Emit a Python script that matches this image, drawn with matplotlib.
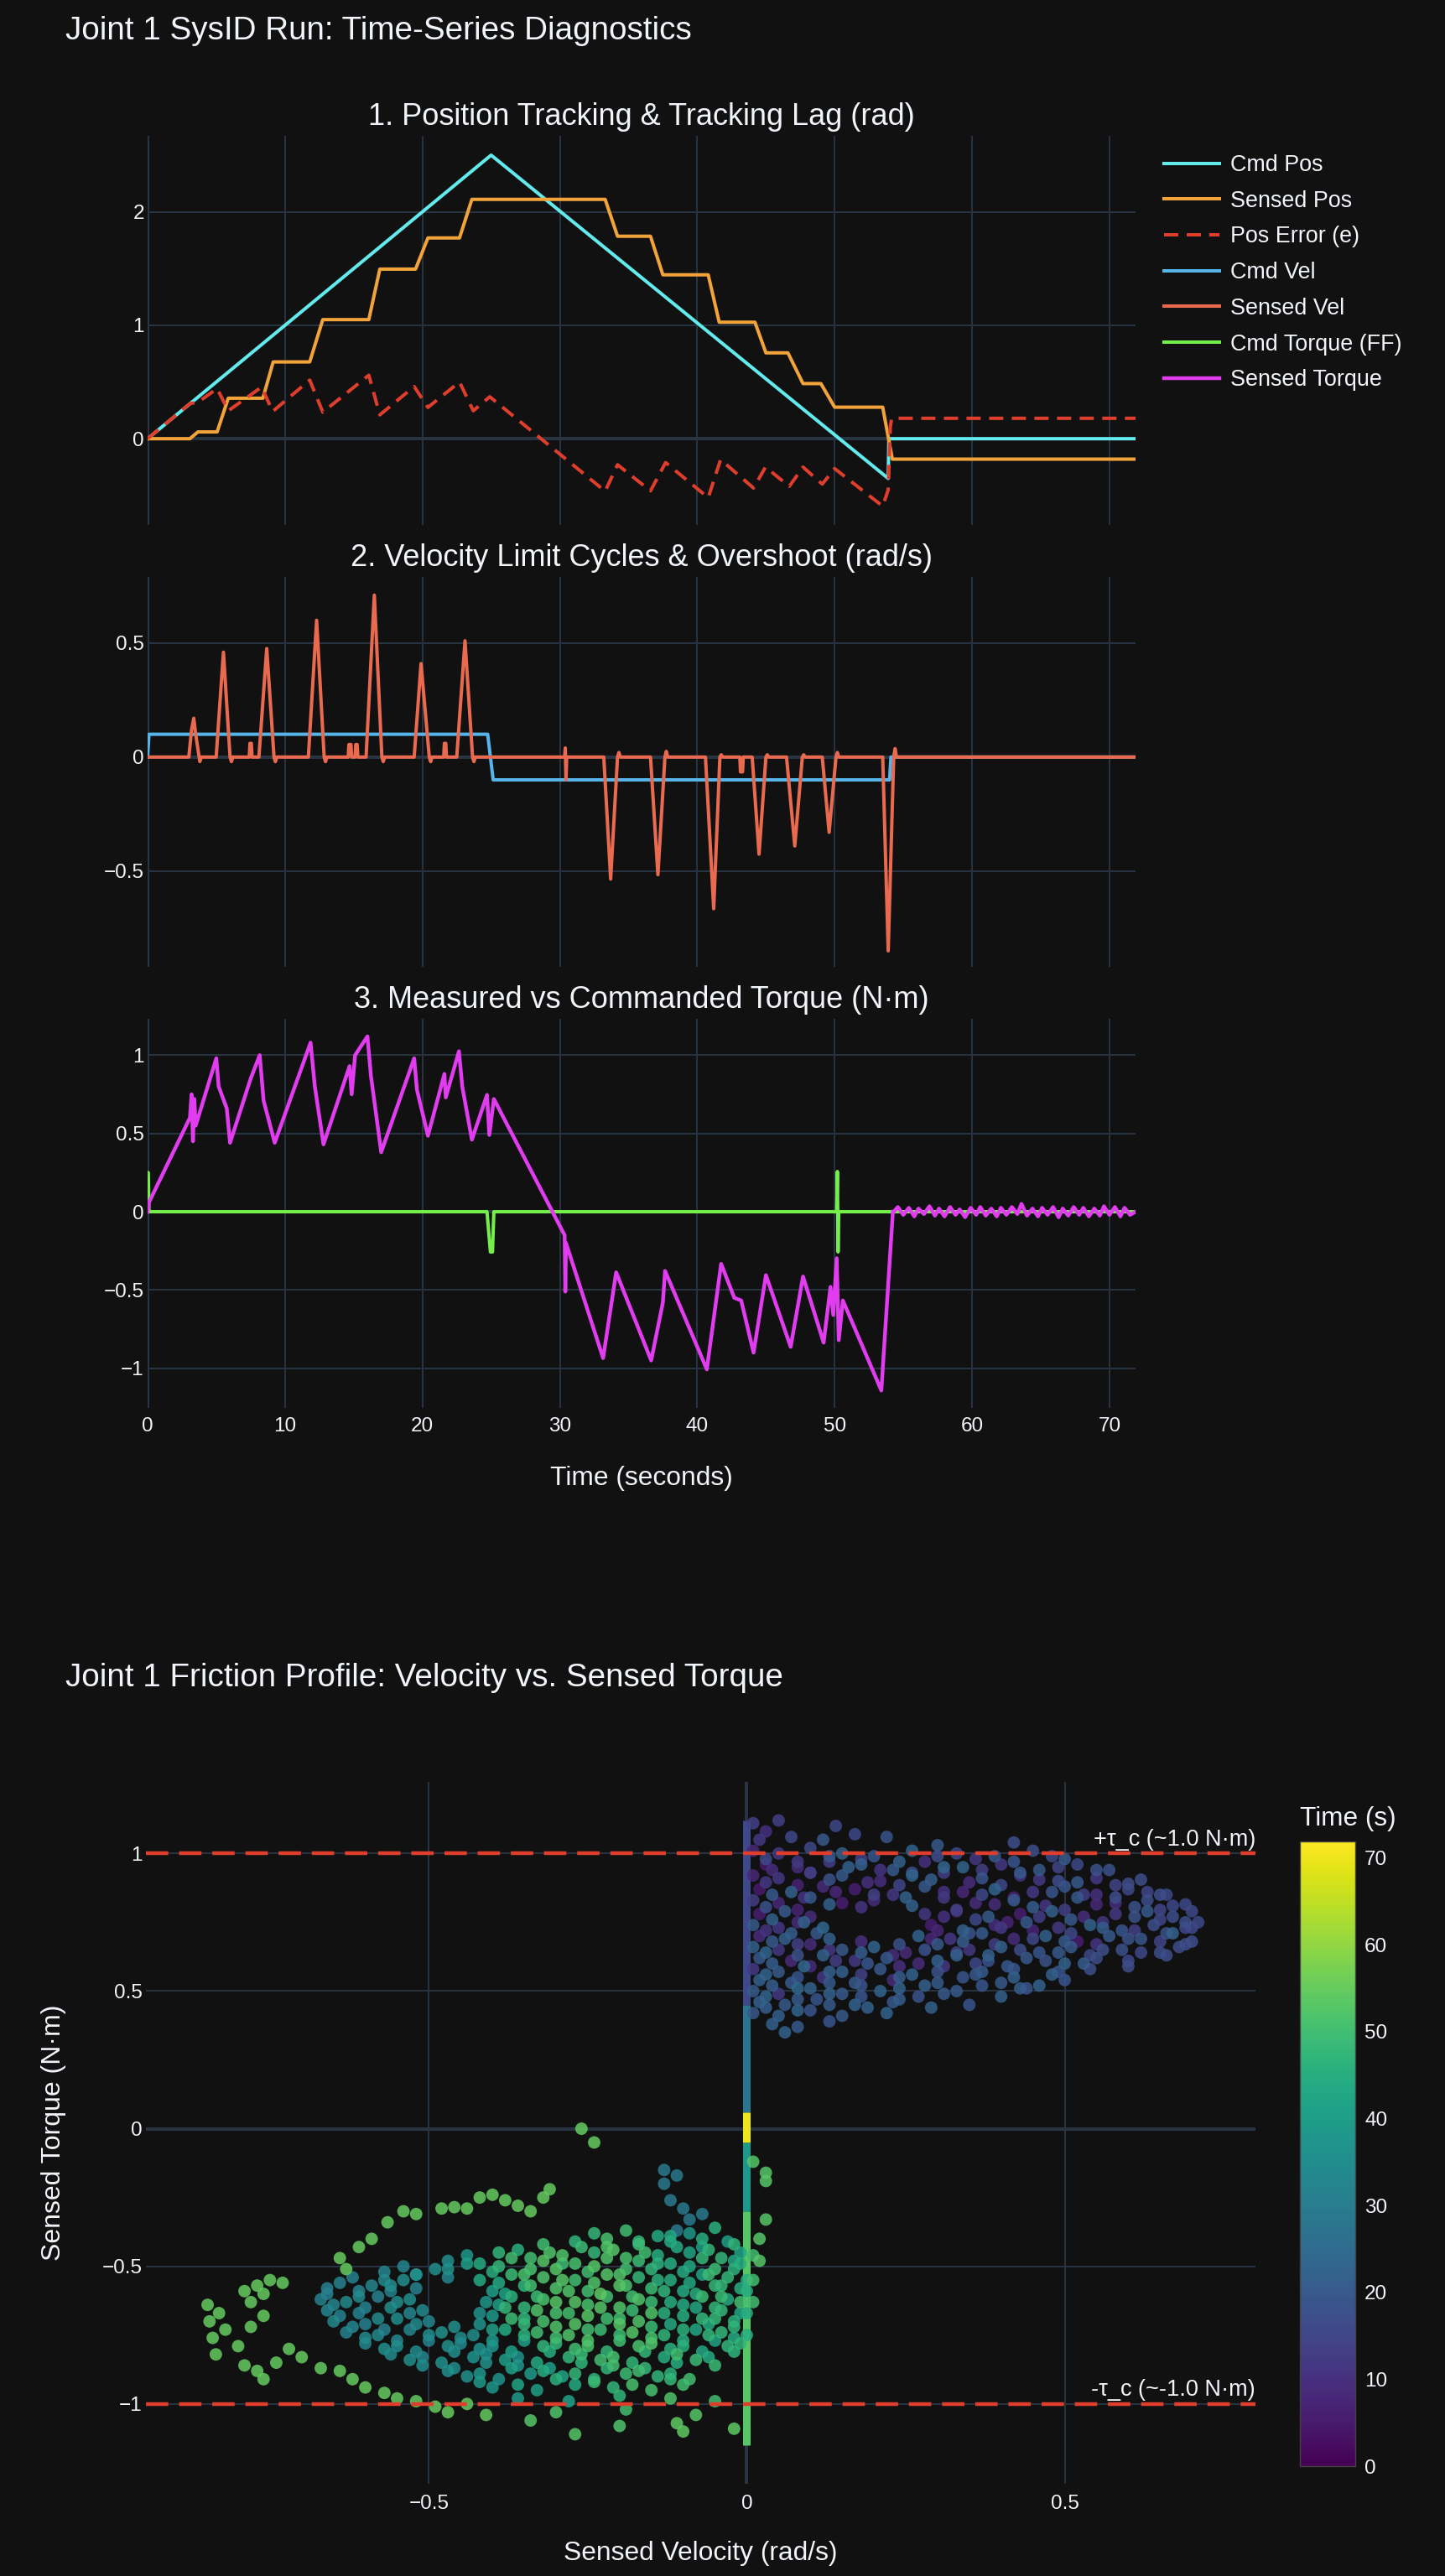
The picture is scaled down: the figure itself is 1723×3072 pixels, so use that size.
import numpy as np
import matplotlib
matplotlib.use("Agg")
import matplotlib.pyplot as plt
from matplotlib.colors import Normalize
from matplotlib.cm import ScalarMappable

# ---------- time series ----------
cmd_pos_t = [0, 25.0, 53.9, 53.95, 71.9]
cmd_pos = [0, 2.5, -0.35, 0.0, 0.0]

sensed_pos_t = [0, 3.08, 3.66, 5.06, 5.87, 8.39, 9.14, 11.8, 12.75, 16.1, 16.9, 19.5, 20.4,
                22.7, 23.6, 33.3, 34.2, 36.6, 37.5, 40.8, 41.6, 44.2, 45.0, 46.6, 47.7,
                49.0, 50.0, 53.5, 54.2, 71.9]
sensed_pos = [0, 0, 0.06, 0.06, 0.357, 0.357, 0.677, 0.677, 1.05, 1.05, 1.495, 1.495, 1.77,
              1.77, 2.11, 2.11, 1.785, 1.785, 1.445, 1.445, 1.027, 1.027, 0.757, 0.757, 0.486,
              0.486, 0.278, 0.278, -0.18, -0.18]

pos_err_t = [0, 3.08, 3.66, 5.06, 5.87, 8.3, 9.1, 11.8, 12.75, 16.1, 16.9, 19.4, 20.4, 22.7,
             23.7, 24.9, 33.3, 34.2, 36.6, 37.7, 40.8, 41.7, 44.1, 44.97, 46.7, 47.7, 49.1,
             50.0, 53.5, 53.9, 54.05, 54.15, 71.9]
pos_err = [0, 0.31, 0.32, 0.443, 0.246, 0.456, 0.24, 0.517, 0.234, 0.56, 0.21, 0.46, 0.276,
           0.5, 0.246, 0.37, -0.463, -0.229, -0.46, -0.21, -0.52, -0.184, -0.435, -0.25,
           -0.42, -0.25, -0.40, -0.263, -0.595, -0.45, 0.1, 0.18, 0.18]

cmd_vel_t = [0, 0.1, 24.75, 25.15, 54.0, 54.1, 71.9]
cmd_vel = [0, 0.1, 0.1, -0.1, -0.1, 0, 0]

sensed_vel_t = [0, 3.0, 3.2, 3.36, 3.5, 3.7, 3.8, 3.9, 4.99, 5.52, 6.0, 6.1, 6.2, 7.4, 7.45,
                7.55, 7.6, 8.1, 8.67, 9.2, 9.3, 9.4, 11.7, 12.3, 12.85, 12.95, 13.05, 14.6,
                14.65, 14.8, 14.85, 15.1, 15.15, 15.25, 15.3, 15.9, 16.5, 17.05, 17.15, 17.25,
                19.4, 19.9, 20.5, 20.6, 20.7, 21.55, 21.6, 21.7, 21.75, 22.5, 23.1, 23.65,
                23.75, 23.85, 30.35, 30.4, 30.45, 30.5, 33.2, 33.7, 34.2, 34.3, 34.4, 36.6,
                37.14, 37.65, 37.75, 37.85, 40.6, 41.2, 41.65, 41.75, 41.85, 43.1, 43.15, 43.3,
                43.35, 44.0, 44.5, 45.0, 45.1, 45.2, 46.5, 47.1, 47.65, 47.75, 47.85, 49.1,
                49.6, 50.1, 50.2, 50.3, 53.5, 53.9, 54.3, 54.4, 54.5, 71.9]
sensed_vel = [0, 0, 0.12, 0.17, 0.1, 0.02, -0.02, 0, 0, 0.46, 0.0, -0.02, 0, 0, 0.06,
              0.06, 0, 0, 0.476, 0.0, -0.02, 0, 0, 0.60, 0.0, -0.02, 0, 0,
              0.055, 0.055, 0, 0, 0.055, 0.055, 0, 0, 0.71, 0, -0.02, 0,
              0, 0.41, 0, -0.02, 0, 0, 0.06, 0.06, 0, 0, 0.51, 0,
              -0.02, 0, 0, 0.04, -0.10, 0, 0, -0.535, 0, 0.02, 0, 0,
              -0.516, 0, 0.025, 0, 0, -0.665, 0, 0.01, 0, 0, -0.065, -0.065,
              0, 0, -0.426, 0, 0.01, 0, 0, -0.39, 0, 0.01, 0, 0,
              -0.33, 0, 0.02, 0, 0, -0.85, 0, 0.037, 0, 0]

cmd_tau_t = [0, 0.05, 0.1, 24.7, 24.95, 25.1, 25.2, 50.15, 50.2, 50.25, 50.3, 71.9]
cmd_tau = [0.25, 0.25, 0, 0, -0.257, -0.257, 0, 0, 0.257, -0.257, 0, 0]

sensed_tau_t = [0, 0.1, 3.08, 3.2, 3.3, 3.4, 3.5, 5.0, 5.17, 5.76, 6.0, 7.5, 8.16, 8.44, 9.25,
                11.86, 12.17, 12.8, 14.7, 14.85, 15.1, 16.0, 16.25, 17.0, 19.4, 19.6, 20.4,
                21.6, 21.7, 22.66, 22.9, 23.6, 24.7, 24.87, 25.2, 30.35, 30.4, 30.45, 33.15,
                34.1, 36.65, 37.5, 37.66, 40.7, 41.74, 42.7, 43.2, 44.1, 45.0, 46.8, 47.7,
                49.2, 49.7, 49.9, 50.15, 50.3, 50.6, 53.4, 54.24]
sensed_tau = [0, 0.06, 0.60, 0.75, 0.45, 0.72, 0.55, 0.98, 0.80, 0.66, 0.44, 0.85, 1.0, 0.71,
              0.44, 1.08, 0.80, 0.43, 0.93, 0.75, 1.0, 1.12, 0.87, 0.38, 0.98, 0.78, 0.485,
              0.88, 0.73, 1.025, 0.80, 0.46, 0.746, 0.49, 0.72, -0.15, -0.51, -0.2, -0.935,
              -0.387, -0.95, -0.58, -0.378, -1.007, -0.333, -0.55, -0.567, -0.90, -0.405,
              -0.863, -0.414, -0.836, -0.48, -0.66, -0.297, -0.82, -0.567, -1.142, 0.0]

settle_t = [54.3, 54.6, 55.0, 55.4, 55.8, 56.1, 56.5, 56.9, 57.3, 57.6, 58.0, 58.4, 58.8, 59.1,
            59.5, 59.9, 60.3, 60.6, 61.0, 61.4, 61.8, 62.1, 62.5, 62.9, 63.3, 63.6, 64.0, 64.4,
            64.8, 65.1, 65.5, 65.9, 66.3, 66.6, 67.0, 67.4, 67.8, 68.1, 68.5, 68.9, 69.3, 69.6,
            70.0, 70.4, 70.8, 71.1, 71.5, 71.9]
settle_tau = [0.0, 0.03, -0.02, 0.025, -0.03, 0.02, -0.015, 0.035, -0.025, 0.02, -0.03, 0.03,
              -0.02, 0.015, -0.035, 0.025, -0.02, 0.03, -0.025, 0.02, -0.03, 0.025, -0.02, 0.03,
              -0.015, 0.05, -0.025, 0.02, -0.03, 0.025, -0.02, 0.03, -0.035, 0.02, -0.025, 0.03,
              -0.02, 0.025, -0.03, 0.02, -0.025, 0.035, -0.02, 0.03, -0.03, 0.025, -0.02, 0.0]

# ---------- friction scatter ----------
# upper cloud (positive slips, first half of the run)
upper_vel = [
    0.01, 0.03, 0.14, 0.05,
    0.02, 0.07, 0.12, 0.17, 0.22, 0.42, 0.30,
    0.01, 0.05, 0.10, 0.15, 0.20, 0.26, 0.33, 0.39, 0.45, 0.50,
    0.03, 0.08, 0.13, 0.18, 0.23, 0.28, 0.34, 0.40, 0.46, 0.52, 0.57,
    0.01, 0.05, 0.10, 0.15, 0.21, 0.26, 0.31, 0.37, 0.43, 0.49, 0.55, 0.60,
    0.02, 0.07, 0.12, 0.17, 0.23, 0.28, 0.34, 0.39, 0.45, 0.50, 0.55, 0.60, 0.65,
    0.01, 0.05, 0.10, 0.15, 0.20, 0.26, 0.31, 0.36, 0.42, 0.47, 0.52, 0.58, 0.63, 0.67,
    0.02, 0.06, 0.10, 0.28, 0.33, 0.38, 0.43, 0.48, 0.53, 0.58, 0.63, 0.67, 0.70,
    0.01, 0.05, 0.09, 0.29, 0.34, 0.39, 0.44, 0.49, 0.54, 0.59, 0.64, 0.69, 0.71,
    0.02, 0.06, 0.11, 0.27, 0.32, 0.37, 0.42, 0.47, 0.52, 0.57, 0.62, 0.67, 0.70,
    0.01, 0.05, 0.10, 0.15, 0.20, 0.25, 0.30, 0.35, 0.40, 0.46, 0.51, 0.56, 0.62, 0.68,
    0.02, 0.07, 0.12, 0.17, 0.22, 0.27, 0.33, 0.38, 0.44, 0.50, 0.55, 0.60, 0.66,
    0.01, 0.05, 0.10, 0.15, 0.21, 0.26, 0.31, 0.37, 0.42, 0.48, 0.54,
    0.02, 0.07, 0.12, 0.17, 0.23, 0.28, 0.34, 0.40, 0.46, 0.50,
    0.01, 0.05, 0.10, 0.15, 0.21, 0.27, 0.33, 0.40, 0.44,
    0.02, 0.06, 0.11, 0.17, 0.23, 0.29, 0.35,
    0.01, 0.05, 0.10, 0.15, 0.22,
    0.04, 0.08, 0.13, 0.06,
    # in-between samples
    0.03, 0.08, 0.13, 0.18, 0.24, 0.30, 0.36, 0.42, 0.48,
    0.04, 0.10, 0.16, 0.21, 0.26, 0.31, 0.37, 0.43, 0.49, 0.55,
    0.03, 0.08, 0.13, 0.19, 0.24, 0.29, 0.35, 0.40, 0.46, 0.52, 0.58, 0.62,
    0.04, 0.09, 0.14, 0.20, 0.25, 0.31, 0.37, 0.42, 0.48, 0.53, 0.58, 0.63, 0.66,
    0.03, 0.08, 0.13, 0.18, 0.33, 0.39, 0.45, 0.50, 0.55, 0.61, 0.65, 0.69,
    0.04, 0.08, 0.31, 0.36, 0.41, 0.46, 0.51, 0.56, 0.61, 0.65, 0.69,
    0.03, 0.07, 0.12, 0.30, 0.35, 0.40, 0.45, 0.51, 0.56, 0.61, 0.66, 0.70,
    0.04, 0.08, 0.13, 0.18, 0.24, 0.29, 0.34, 0.39, 0.45, 0.50, 0.55, 0.60, 0.65, 0.69,
    0.03, 0.08, 0.13, 0.18, 0.23, 0.28, 0.33, 0.38, 0.43, 0.49, 0.54, 0.59, 0.65,
    0.04, 0.09, 0.14, 0.19, 0.24, 0.30, 0.36, 0.41, 0.47, 0.53, 0.60,
    0.03, 0.08, 0.13, 0.18, 0.24, 0.30, 0.36, 0.42, 0.49,
    0.04, 0.08, 0.13, 0.18, 0.24, 0.30, 0.37, 0.43,
    0.03, 0.08, 0.13, 0.18, 0.24, 0.31,
    0.03, 0.08, 0.13, 0.19,
]
upper_tau = [
    1.11, 1.08, 1.10, 1.12,
    1.05, 1.06, 1.05, 1.07, 1.06, 1.04, 1.03,
    1.01, 1.00, 1.02, 1.00, 0.99, 1.01, 1.00, 0.99, 1.01, 0.98,
    0.96, 0.95, 0.97, 0.96, 0.94, 0.97, 0.95, 0.96, 0.94, 0.96, 0.94,
    0.92, 0.91, 0.93, 0.92, 0.90, 0.92, 0.93, 0.91, 0.92, 0.90, 0.91, 0.89,
    0.87, 0.86, 0.88, 0.87, 0.85, 0.88, 0.86, 0.87, 0.86, 0.88, 0.85, 0.87, 0.85,
    0.83, 0.82, 0.84, 0.82, 0.83, 0.81, 0.84, 0.82, 0.83, 0.81, 0.84, 0.82, 0.83, 0.81,
    0.78, 0.79, 0.77, 0.78, 0.79, 0.77, 0.78, 0.79, 0.77, 0.78, 0.79, 0.77, 0.79,
    0.74, 0.73, 0.75, 0.74, 0.72, 0.74, 0.75, 0.73, 0.74, 0.72, 0.74, 0.73, 0.75,
    0.70, 0.69, 0.71, 0.70, 0.69, 0.71, 0.69, 0.70, 0.68, 0.70, 0.69, 0.71, 0.68,
    0.66, 0.65, 0.67, 0.65, 0.66, 0.64, 0.67, 0.65, 0.66, 0.64, 0.66, 0.65, 0.64, 0.66,
    0.62, 0.61, 0.63, 0.61, 0.62, 0.60, 0.63, 0.61, 0.62, 0.60, 0.62, 0.61, 0.63,
    0.58, 0.57, 0.59, 0.57, 0.58, 0.56, 0.59, 0.57, 0.58, 0.56, 0.58,
    0.54, 0.53, 0.55, 0.53, 0.54, 0.52, 0.55, 0.53, 0.52, 0.54,
    0.50, 0.49, 0.51, 0.49, 0.50, 0.48, 0.50, 0.48, 0.51,
    0.46, 0.45, 0.47, 0.45, 0.46, 0.44, 0.45,
    0.42, 0.41, 0.43, 0.41, 0.42,
    0.38, 0.37, 0.39, 0.35,
    0.98, 0.97, 0.99, 0.98, 0.97, 0.99, 0.98, 0.97, 0.99,
    0.94, 0.93, 0.95, 0.94, 0.93, 0.95, 0.94, 0.93, 0.95, 0.94,
    0.895, 0.885, 0.905, 0.895, 0.885, 0.905, 0.895, 0.885, 0.905, 0.895, 0.885, 0.905,
    0.85, 0.84, 0.86, 0.85, 0.84, 0.86, 0.85, 0.84, 0.86, 0.85, 0.84, 0.86, 0.85,
    0.805, 0.795, 0.815, 0.805, 0.795, 0.815, 0.805, 0.795, 0.815, 0.805, 0.795, 0.815,
    0.76, 0.75, 0.77, 0.76, 0.75, 0.77, 0.76, 0.75, 0.77, 0.76, 0.75,
    0.72, 0.71, 0.73, 0.72, 0.71, 0.73, 0.72, 0.71, 0.73, 0.72, 0.71, 0.73,
    0.68, 0.67, 0.69, 0.68, 0.67, 0.69, 0.68, 0.67, 0.69, 0.68, 0.67, 0.69, 0.68, 0.67,
    0.64, 0.63, 0.65, 0.64, 0.63, 0.65, 0.64, 0.63, 0.65, 0.64, 0.63, 0.65, 0.64,
    0.60, 0.59, 0.61, 0.60, 0.59, 0.61, 0.60, 0.59, 0.61, 0.60, 0.59,
    0.56, 0.55, 0.57, 0.56, 0.55, 0.57, 0.56, 0.55, 0.57,
    0.52, 0.51, 0.53, 0.52, 0.51, 0.53, 0.52, 0.51,
    0.48, 0.47, 0.49, 0.48, 0.47, 0.49,
    0.44, 0.43, 0.45, 0.44,
]
upper_time = [
    14, 10, 16, 14,
    12, 16, 20, 16, 19, 17, 20,
    8, 12, 16, 22, 19, 23, 16, 20, 17, 20,
    5, 9, 13, 22, 20, 10, 23, 12, 20, 16, 18,
    8, 12, 6, 20, 9, 23, 13, 19, 10, 17, 12, 17,
    5, 22, 9, 6, 12, 20, 8, 23, 12, 19, 10, 16, 17,
    13, 8, 20, 6, 9, 22, 12, 9, 20, 12, 20, 10, 17, 16,
    6, 20, 9, 12, 8, 20, 6, 22, 9, 12, 20, 17, 16,
    20, 12, 22, 6, 22, 9, 20, 12, 23, 19, 17, 16, 16,
    9, 22, 20, 23, 12, 20, 9, 22, 6, 20, 19, 22, 17,
    22, 12, 9, 20, 23, 9, 20, 12, 22, 19, 20, 17, 16, 17,
    20, 9, 22, 12, 20, 9, 22, 19, 20, 22, 17, 16, 17,
    12, 20, 9, 22, 20, 23, 12, 20, 19, 22, 17,
    22, 20, 12, 20, 9, 22, 19, 20, 23, 19,
    20, 12, 22, 20, 23, 19, 20, 22, 19,
    22, 20, 19, 23, 20, 22, 19,
    20, 22, 19, 20, 23,
    22, 20, 19, 23,
    16, 12, 20, 14, 22, 17, 12, 19, 16,
    9, 14, 22, 11, 17, 24, 13, 20, 15, 18,
    12, 7, 18, 10, 15, 21, 9, 16, 12, 20, 15, 17,
    20, 11, 8, 14, 22, 10, 16, 7, 19, 13, 17, 15, 16,
    18, 7, 22, 11, 14, 9, 21, 13, 8, 18, 15, 16,
    22, 9, 10, 16, 7, 13, 20, 11, 18, 15, 17,
    11, 21, 24, 8, 19, 12, 7, 16, 21, 14, 18, 16,
    20, 14, 22, 10, 18, 8, 21, 13, 16, 20, 11, 18, 15, 17,
    23, 18, 12, 21, 9, 19, 14, 22, 17, 20, 16, 18, 17,
    21, 24, 13, 19, 10, 22, 16, 20, 18, 21, 17,
    23, 19, 22, 14, 21, 18, 20, 22, 19,
    21, 24, 20, 18, 22, 20, 19, 21,
    23, 20, 22, 19, 21, 20,
    21, 23, 20, 22,
]

# lower cloud (negative slips, second half of the run)
lower_vel = [
    -0.24, -0.19, -0.14, -0.09, -0.05,
    -0.32, -0.27, -0.22, -0.17, -0.12, -0.07, -0.02,
    -0.44, -0.39, -0.34, -0.29, -0.24, -0.19, -0.14, -0.09, -0.04, 0.01,
    -0.54, -0.49, -0.44, -0.39, -0.34, -0.29, -0.24, -0.19, -0.14, -0.09, -0.05, -0.01,
    -0.62, -0.57, -0.52, -0.47, -0.42, -0.37, -0.32, -0.27, -0.22, -0.17, -0.12, -0.07, -0.03, 0.01,
    -0.66, -0.61, -0.56, -0.52, -0.40, -0.35, -0.30, -0.25, -0.20, -0.15, -0.10, -0.05, -0.01,
    -0.67, -0.63, -0.58, -0.53, -0.41, -0.37, -0.32, -0.27, -0.22, -0.17, -0.12, -0.07, -0.03, 0.01,
    -0.66, -0.61, -0.56, -0.51, -0.42, -0.38, -0.33, -0.28, -0.23, -0.18, -0.13, -0.08, -0.04, 0.0,
    -0.65, -0.60, -0.55, -0.50, -0.42, -0.37, -0.32, -0.27, -0.22, -0.17, -0.12, -0.07, -0.02,
    -0.63, -0.58, -0.53, -0.48, -0.43, -0.38, -0.33, -0.28, -0.23, -0.18, -0.13, -0.08, -0.04, 0.0,
    -0.60, -0.55, -0.50, -0.45, -0.40, -0.35, -0.30, -0.25, -0.20, -0.15, -0.10, -0.05, -0.01,
    -0.56, -0.51, -0.46, -0.41, -0.36, -0.31, -0.26, -0.21, -0.16, -0.11, -0.06, -0.02,
    -0.51, -0.46, -0.41, -0.36, -0.31, -0.26, -0.21, -0.16, -0.11, -0.05,
    -0.44, -0.39, -0.34, -0.29, -0.24, -0.19, -0.14, -0.09,
    -0.40, -0.33, -0.27, -0.21, -0.15, -0.10,
    -0.36, -0.28, -0.20, -0.12, -0.05,
    -0.30, -0.19, -0.08,
    -0.34, -0.20, -0.11, -0.02,
    -0.27, -0.10,
    # in-between samples
    -0.22, -0.17, -0.12, -0.07, -0.03,
    -0.36, -0.31, -0.26, -0.21, -0.16, -0.11, -0.06, -0.01,
    -0.47, -0.42, -0.37, -0.32, -0.27, -0.22, -0.17, -0.12, -0.07, -0.02,
    -0.57, -0.52, -0.47, -0.40, -0.35, -0.30, -0.25, -0.20, -0.15, -0.10, -0.06, -0.02,
    -0.64, -0.59, -0.54, -0.39, -0.34, -0.29, -0.24, -0.19, -0.14, -0.09, -0.04, 0.0,
    -0.66, -0.61, -0.56, -0.38, -0.33, -0.28, -0.23, -0.18, -0.13, -0.08, -0.04, 0.0,
    -0.65, -0.60, -0.55, -0.39, -0.35, -0.30, -0.25, -0.20, -0.15, -0.10, -0.05, -0.01,
    -0.64, -0.58, -0.53, -0.40, -0.35, -0.30, -0.25, -0.20, -0.15, -0.10, -0.05, -0.01,
    -0.62, -0.57, -0.52, -0.46, -0.40, -0.35, -0.30, -0.25, -0.20, -0.15, -0.10, -0.06, -0.02,
    -0.60, -0.55, -0.50, -0.45, -0.40, -0.35, -0.30, -0.25, -0.20, -0.15, -0.10, -0.06, -0.02,
    -0.57, -0.52, -0.47, -0.42, -0.37, -0.32, -0.27, -0.22, -0.17, -0.12, -0.07, -0.03,
    -0.53, -0.48, -0.43, -0.38, -0.33, -0.28, -0.23, -0.18, -0.13, -0.08,
    -0.47, -0.42, -0.37, -0.32, -0.27, -0.22, -0.17, -0.12,
    -0.42, -0.36, -0.30, -0.24, -0.18, -0.12,
]
lower_tau = [
    -0.38, -0.37, -0.39, -0.38, -0.36,
    -0.42, -0.41, -0.43, -0.42, -0.41, -0.43, -0.42,
    -0.46, -0.45, -0.47, -0.46, -0.45, -0.47, -0.46, -0.45, -0.47, -0.46,
    -0.50, -0.51, -0.49, -0.50, -0.51, -0.49, -0.50, -0.51, -0.49, -0.50, -0.51, -0.49,
    -0.54, -0.55, -0.53, -0.54, -0.55, -0.53, -0.54, -0.55, -0.53, -0.54, -0.55, -0.53, -0.54, -0.55,
    -0.58, -0.59, -0.57, -0.58, -0.59, -0.57, -0.58, -0.59, -0.57, -0.58, -0.59, -0.57, -0.58,
    -0.62, -0.63, -0.61, -0.62, -0.63, -0.61, -0.62, -0.63, -0.61, -0.62, -0.63, -0.61, -0.62, -0.63,
    -0.66, -0.67, -0.65, -0.66, -0.67, -0.65, -0.66, -0.67, -0.65, -0.66, -0.67, -0.65, -0.66, -0.67,
    -0.70, -0.71, -0.69, -0.70, -0.71, -0.69, -0.70, -0.71, -0.69, -0.70, -0.71, -0.69, -0.70,
    -0.74, -0.75, -0.73, -0.74, -0.75, -0.73, -0.74, -0.75, -0.73, -0.74, -0.75, -0.73, -0.74, -0.75,
    -0.78, -0.79, -0.77, -0.78, -0.79, -0.77, -0.78, -0.79, -0.77, -0.78, -0.79, -0.77, -0.78,
    -0.82, -0.83, -0.81, -0.82, -0.83, -0.81, -0.82, -0.83, -0.81, -0.82, -0.83, -0.81,
    -0.86, -0.87, -0.85, -0.86, -0.87, -0.85, -0.86, -0.87, -0.85, -0.86,
    -0.90, -0.91, -0.89, -0.90, -0.91, -0.89, -0.90, -0.91,
    -0.94, -0.95, -0.93, -0.94, -0.95, -0.93,
    -0.98, -0.99, -0.97, -0.98, -0.99,
    -1.03, -1.02, -1.04,
    -1.06, -1.08, -1.07, -1.09,
    -1.11, -1.10,
    -0.40, -0.41, -0.39, -0.40, -0.41,
    -0.44, -0.45, -0.43, -0.44, -0.45, -0.43, -0.44, -0.45,
    -0.48, -0.49, -0.47, -0.48, -0.49, -0.47, -0.48, -0.49, -0.47, -0.48,
    -0.52, -0.53, -0.51, -0.52, -0.53, -0.51, -0.52, -0.53, -0.51, -0.52, -0.53, -0.51,
    -0.56, -0.57, -0.55, -0.56, -0.57, -0.55, -0.56, -0.57, -0.55, -0.56, -0.57, -0.55,
    -0.60, -0.61, -0.59, -0.60, -0.61, -0.59, -0.60, -0.61, -0.59, -0.60, -0.61, -0.59,
    -0.64, -0.65, -0.63, -0.64, -0.65, -0.63, -0.64, -0.65, -0.63, -0.64, -0.65, -0.63,
    -0.68, -0.69, -0.67, -0.68, -0.69, -0.67, -0.68, -0.69, -0.67, -0.68, -0.69, -0.67,
    -0.72, -0.73, -0.71, -0.72, -0.73, -0.71, -0.72, -0.73, -0.71, -0.72, -0.73, -0.71, -0.72,
    -0.76, -0.77, -0.75, -0.76, -0.77, -0.75, -0.76, -0.77, -0.75, -0.76, -0.77, -0.75, -0.76,
    -0.80, -0.81, -0.79, -0.80, -0.81, -0.79, -0.80, -0.81, -0.79, -0.80, -0.81, -0.79,
    -0.84, -0.85, -0.83, -0.84, -0.85, -0.83, -0.84, -0.85, -0.83, -0.84,
    -0.88, -0.89, -0.87, -0.88, -0.89, -0.87, -0.88, -0.89,
    -0.92, -0.93, -0.91, -0.92, -0.93, -0.91,
]
lower_time = [
    48, 50, 44, 38, 46,
    50, 47, 52, 49, 44, 40, 47,
    38, 47, 50, 52, 48, 51, 45, 42, 48, 50,
    33, 35, 40, 48, 51, 49, 53, 50, 46, 43, 49, 45,
    32, 34, 36, 33, 44, 49, 52, 50, 53, 48, 45, 42, 48, 50,
    31, 33, 35, 32, 40, 47, 52, 50, 53, 49, 44, 48, 45,
    32, 34, 31, 35, 38, 46, 51, 53, 50, 52, 45, 49, 44, 50,
    33, 32, 35, 34, 36, 48, 52, 50, 53, 49, 46, 43, 48, 44,
    34, 32, 35, 33, 37, 49, 51, 53, 50, 52, 44, 48, 46,
    32, 34, 33, 36, 35, 44, 50, 52, 49, 53, 47, 43, 48, 45,
    33, 35, 32, 34, 37, 40, 48, 51, 50, 52, 46, 42, 47,
    34, 33, 35, 37, 36, 45, 49, 51, 48, 50, 44, 47,
    35, 34, 36, 38, 40, 47, 50, 48, 45, 49,
    36, 37, 39, 42, 46, 49, 47, 50,
    38, 40, 44, 48, 51, 50,
    39, 42, 47, 52, 50,
    52, 50, 53,
    53, 52, 54, 54,
    53, 54,
    51, 48, 43, 45, 40,
    46, 52, 49, 53, 50, 44, 47, 42,
    35, 44, 50, 53, 51, 52, 49, 45, 48, 43,
    33, 34, 36, 45, 51, 53, 50, 52, 47, 44, 49, 46,
    32, 33, 35, 44, 50, 53, 52, 51, 46, 43, 48, 45,
    31, 34, 32, 42, 49, 52, 54, 50, 47, 45, 49, 44,
    33, 32, 35, 40, 48, 53, 51, 52, 49, 44, 47, 50,
    32, 34, 33, 39, 47, 51, 53, 50, 52, 45, 48, 43,
    33, 31, 34, 36, 40, 48, 52, 50, 53, 49, 46, 44, 47,
    34, 33, 35, 34, 38, 46, 50, 52, 49, 51, 45, 48, 44,
    35, 34, 36, 37, 41, 47, 50, 48, 51, 46, 43, 47,
    35, 36, 37, 40, 44, 48, 50, 47, 45, 49,
    36, 38, 41, 45, 48, 47, 50, 46,
    39, 42, 46, 49, 51, 48,
]

# sparse outliers: return arcs of the big slip and stray samples
sparse_vel = [
    -0.848, -0.845, -0.84, -0.835, -0.83, -0.82, -0.79, -0.78, -0.77, -0.76, -0.75, -0.73,
    -0.76, -0.78, -0.80, -0.79, -0.77, -0.76, -0.74, -0.72, -0.70, -0.67, -0.64, -0.62,
    -0.60, -0.57, -0.55, -0.52, -0.49, -0.47, -0.44, -0.41,
    -0.64, -0.63, -0.61, -0.59, -0.565, -0.54, -0.52, -0.48, -0.46, -0.44, -0.42, -0.40,
    -0.38, -0.36, -0.34, -0.32, -0.31, -0.26, -0.24,
    -0.13, -0.13, -0.11, -0.12, -0.10, -0.09, -0.11, -0.07,
    0.01, 0.03, 0.03, 0.02, 0.02, 0.03,
]
sparse_tau = [
    -0.64, -0.70, -0.76, -0.82, -0.67, -0.73, -0.59, -0.63, -0.57, -0.60, -0.55, -0.56,
    -0.68, -0.72, -0.79, -0.86, -0.88, -0.91, -0.85, -0.80, -0.83, -0.87, -0.88, -0.91,
    -0.94, -0.96, -0.98, -0.99, -1.01, -1.03, -1.00, -1.04,
    -0.47, -0.51, -0.43, -0.40, -0.34, -0.30, -0.31, -0.29, -0.285, -0.29, -0.25, -0.24,
    -0.26, -0.28, -0.30, -0.25, -0.22, 0.0, -0.05,
    -0.15, -0.20, -0.17, -0.26, -0.29, -0.33, -0.37, -0.31,
    -0.12, -0.16, -0.19, -0.48, -0.40, -0.33,
]
sparse_time = [
    55, 55, 55, 55, 55, 55, 55, 55, 55, 55, 55, 55,
    55, 55, 55, 55, 55, 55, 55, 55, 55, 55, 55, 55,
    55, 55, 55, 55, 55, 55, 55, 55,
    55, 55, 55, 55, 55, 55, 55, 55, 55, 55, 55, 55,
    55, 55, 55, 55, 55, 55, 55,
    29, 29, 29, 29, 29, 29, 29, 29,
    53, 53, 53, 53, 53, 53,
]

# stick phase: samples piled up at v = 0
stick_top = [1.12, 0.45, 0.06, -0.05, -0.30]
stick_bottom = [0.45, 0.06, -0.05, -0.30, -1.15]
stick_time = [16, 28, 70, 38, 53]

tau_c = 1.0
t_max = 71.9

# ---------- style ----------
W, H = 1724, 3072
BG = '#111111'
GRID = '#283442'
FG = '#f2f5fa'
LW = 2.9
TICK_FS = 17.5

plt.rcParams['font.family'] = ['Liberation Sans', 'DejaVu Sans']

fig = plt.figure(figsize=(W / 100, H / 100), dpi=100, facecolor=BG)


def px_axes(x0, y0, x1, y1):
    return fig.add_axes([x0 / W, 1 - y1 / H, (x1 - x0) / W, (y1 - y0) / H])


def ftext(x, y, s, **kw):
    kw.setdefault('color', FG)
    return fig.text(x / W, 1 - y / H, s, **kw)


def style(ax):
    ax.set_facecolor(BG)
    for sp in ax.spines.values():
        sp.set_visible(False)
    ax.grid(True, color=GRID, linewidth=1.4)
    ax.set_axisbelow(True)
    ax.tick_params(length=0, colors=FG, labelsize=TICK_FS, pad=3)
    ax.axhline(0, color=GRID, lw=2.9, zorder=1)
    ax.axvline(0, color=GRID, lw=2.9, zorder=1)


ax1 = px_axes(176, 162, 1354, 626)
ax2 = px_axes(176, 688, 1354, 1153)
ax3 = px_axes(176, 1215, 1354, 1679)
for ax in (ax1, ax2, ax3):
    style(ax)
    ax.set_xlim(0, t_max)
    ax.set_xticks(range(0, 80, 10))
for ax in (ax1, ax2):
    ax.tick_params(labelbottom=False)
ax3.tick_params(axis='x', pad=8)

# 1. position
l1, = ax1.plot(cmd_pos_t, cmd_pos, color='#62eaec', lw=LW, label='Cmd Pos')
l2, = ax1.plot(sensed_pos_t, sensed_pos, color='#f2a43a', lw=LW, label='Sensed Pos')
l3, = ax1.plot(pos_err_t, pos_err, color='#e03e2d', lw=LW, label='Pos Error (e)',
               dashes=(4.2, 2.5), dash_capstyle='butt')
ax1.set_ylim(-0.76, 2.67)
ax1.set_yticks([0, 1, 2], labels=['0', '1', '2'])

# 2. velocity
l4, = ax2.plot(cmd_vel_t, cmd_vel, color='#56b4e9', lw=LW, label='Cmd Vel')
l5, = ax2.plot(sensed_vel_t, sensed_vel, color='#e96a4e', lw=LW, label='Sensed Vel')
ax2.set_ylim(-0.92, 0.79)
ax2.set_yticks([-0.5, 0, 0.5], labels=['\u22120.5', '0', '0.5'])

# 3. torque
l6, = ax3.plot(cmd_tau_t, cmd_tau, color='#74ee4a', lw=LW, label='Cmd Torque (FF)')
l7, = ax3.plot(sensed_tau_t, sensed_tau, color='#e23cf0', lw=3.2, label='Sensed Torque')
ax3.plot(settle_t, settle_tau, color='#e23cf0', lw=3.2)
ax3.set_ylim(-1.253, 1.232)
ax3.set_yticks([-1, -0.5, 0, 0.5, 1], labels=['\u22121', '\u22120.5', '0', '0.5', '1'])

ftext(78, 47, 'Joint 1 SysID Run: Time-Series Diagnostics', fontsize=27.8, va='baseline')
ftext(765, 149, '1. Position Tracking & Tracking Lag (rad)', fontsize=26, ha='center', va='baseline')
ftext(765, 675, '2. Velocity Limit Cycles & Overshoot (rad/s)', fontsize=26, ha='center', va='baseline')
ftext(765, 1202, '3. Measured vs Commanded Torque (N\u00b7m)', fontsize=26, ha='center', va='baseline')
ftext(765, 1771, 'Time (seconds)', fontsize=22.9, ha='center', va='baseline')

handles = [l1, l2, l3, l4, l5, l6, l7]
fig.legend(handles, [h.get_label() for h in handles], loc='upper left',
           bbox_to_anchor=(1388 / W, 1 - 184 / H), frameon=False, fontsize=19.4,
           labelcolor=FG, handlelength=2.44, handletextpad=0.48, labelspacing=0.62,
           borderaxespad=0, borderpad=0)

# ---------- friction profile ----------
ax4 = px_axes(174, 2125, 1497, 2962)
style(ax4)
ax4.set_xlim(-0.945, 0.80)
ax4.set_ylim(-1.29, 1.26)
ax4.set_xticks([-0.5, 0, 0.5], labels=['\u22120.5', '0', '0.5'])
ax4.set_yticks([-1, -0.5, 0, 0.5, 1], labels=['\u22121', '\u22120.5', '0', '0.5', '1'])
ax4.tick_params(axis='x', pad=9)

cmap = plt.get_cmap('viridis')
norm = Normalize(0, t_max)

ax4.vlines(np.zeros(len(stick_top)), stick_bottom, stick_top,
           colors=cmap(norm(np.array(stick_time))), lw=6.5, zorder=2)

vel = np.concatenate([upper_vel, lower_vel, sparse_vel])
tau = np.concatenate([upper_tau, lower_tau, sparse_tau])
tt = np.concatenate([upper_time, lower_time, sparse_time]).astype(float)
n = min(len(vel), len(tau), len(tt))
vel, tau, tt = vel[:n], tau[:n], tt[:n]
order = np.argsort(tt, kind='stable')
ax4.scatter(vel[order], tau[order], c=tt[order], cmap=cmap, norm=norm, s=115,
            alpha=0.85, linewidths=0, zorder=3)

for y, txt in [(tau_c, '+\u03c4_c (~1.0 N\u00b7m)'), (-tau_c, '-\u03c4_c (~-1.0 N\u00b7m)')]:
    ax4.axhline(y, color='#e03e2d', lw=3.2, dashes=(6.0, 2.9), dash_capstyle='butt', zorder=4)
    ax4.annotate(txt, xy=(1, y), xycoords=('axes fraction', 'data'), xytext=(0, 7),
                 textcoords='offset points', ha='right', va='baseline', color=FG,
                 fontsize=19.5, zorder=5)

cax = px_axes(1550, 2196, 1616, 2941)
cb = fig.colorbar(ScalarMappable(norm=norm, cmap=cmap), cax=cax)
cb.set_ticks(range(0, 80, 10))
cb.ax.tick_params(length=0, colors=FG, labelsize=TICK_FS, pad=8)
cb.outline.set_edgecolor('#444444')
cb.outline.set_linewidth(1)

ftext(78, 2011, 'Joint 1 Friction Profile: Velocity vs. Sensed Torque', fontsize=27.8, va='baseline')
ftext(1550, 2177, 'Time (s)', fontsize=22.7, va='baseline')
ftext(835, 3053, 'Sensed Velocity (rad/s)', fontsize=22.9, ha='center', va='baseline')
ftext(64, 2543, 'Sensed Torque (N\u00b7m)', fontsize=23, ha='center', va='center', rotation=90)

fig.savefig('out.png', dpi=100, facecolor=BG)
